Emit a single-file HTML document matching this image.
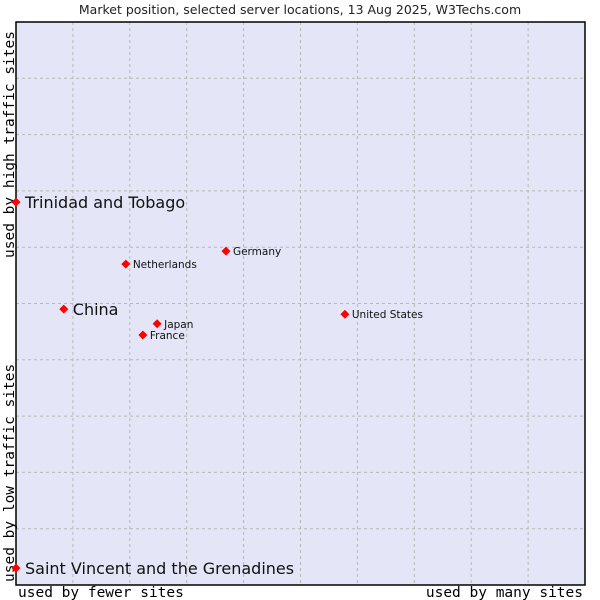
<!DOCTYPE html>
<html><head><meta charset="utf-8"><style>body{margin:0;background:#fff}svg{display:block}</style></head>
<body>
<svg id="c" width="600" height="600" xmlns="http://www.w3.org/2000/svg">
<text x="300" y="14" text-anchor="middle" font-family="DejaVu Sans, sans-serif" font-size="12.5" fill="#222">Market position, selected server locations, 13 Aug 2025, W3Techs.com</text>
<rect x="16" y="22" width="569" height="563" fill="#e4e6f8"/>
<g id="grid"></g>
<rect x="16" y="22" width="569" height="563" fill="none" stroke="#000" stroke-width="1.5"/>
<text transform="translate(14,258) rotate(-90)" font-family="DejaVu Sans Mono, monospace" font-size="14.5" fill="#000">used by high traffic sites</text>
<text transform="translate(14,582) rotate(-90)" font-family="DejaVu Sans Mono, monospace" font-size="14.5" fill="#000">used by low traffic sites</text>
<text x="18" y="597" font-family="DejaVu Sans Mono, monospace" font-size="14.5" fill="#000">used by fewer sites</text>
<text x="583" y="597" text-anchor="end" font-family="DejaVu Sans Mono, monospace" font-size="14.5" fill="#000">used by many sites</text>
<g id="pts"></g>
</svg>
<script>
const names=["Trinidad and Tobago","China","Netherlands","Germany","Japan","France","United States","Saint Vincent and the Grenadines"];
const xs=[0,8.4,19.3,36.9,24.8,22.3,57.8,0];
const ys=[68.0,49.0,57.0,59.3,46.4,44.4,48.1,3.0];
const big=[1,1,0,0,0,0,0,1];
const NS="http://www.w3.org/2000/svg";
const X=v=>16+v/100*569, Y=v=>585-v/100*563;
const g=document.getElementById('grid');
for(let i=1;i<10;i++){
  let l=document.createElementNS(NS,'line');
  
  
  l.setAttribute('x1',X(i*10));l.setAttribute('x2',X(i*10));l.setAttribute('y1',22);l.setAttribute('y2',585);
  l.setAttribute('stroke','#b8b8b8');l.setAttribute('stroke-dasharray','3,3');g.appendChild(l);
  let h=document.createElementNS(NS,'line');
  
  
  h.setAttribute('y1',Y(i*10));h.setAttribute('y2',Y(i*10));h.setAttribute('x1',16);h.setAttribute('x2',585);
  h.setAttribute('stroke','#b8b8b8');h.setAttribute('stroke-dasharray','3,3');g.appendChild(h);
}
const p=document.getElementById('pts');
names.forEach((n,i)=>{
  const cx=X(xs[i]),cy=Y(ys[i]);
  const d=document.createElementNS(NS,'path');
  
  
  d.setAttribute('d',`M${cx} ${cy-4.5}L${cx+4.5} ${cy}L${cx} ${cy+4.5}L${cx-4.5} ${cy}Z`);
  d.setAttribute('fill','#f00');p.appendChild(d);
  const t=document.createElementNS(NS,'text');
  
  
  t.setAttribute('x',cx+(big[i]?9:7));t.setAttribute('y',cy+(big[i]?6:4));
  t.setAttribute('font-family','DejaVu Sans, sans-serif');t.setAttribute('font-size',big[i]?'16':'10.5');
  t.setAttribute('fill','#111');t.textContent=n;p.appendChild(t);
});
</script>
</body></html>
